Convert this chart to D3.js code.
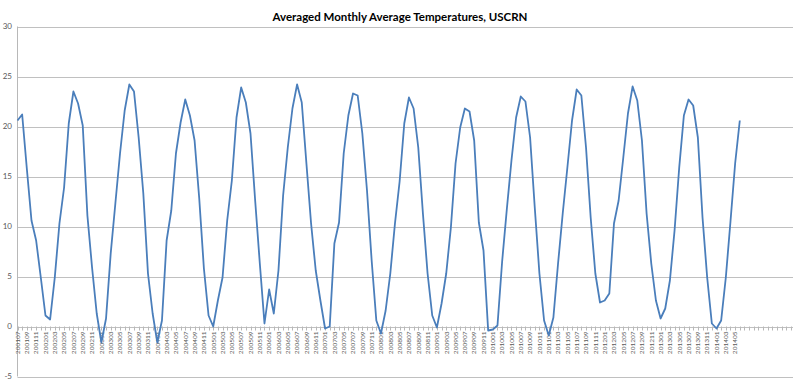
<!DOCTYPE html>
<html>
<head>
<meta charset="utf-8">
<script src="https://cdn.jsdelivr.net/npm/d3@7"></script>
<style>
  body { margin: 0; background: #fff; }
  svg { display: block; }
</style>
</head>
<body>
<div id="chart"></div>
<script>
// monthly values, Jul 2001 .. Jun 2014 (deg C)
var temps2001 = [20.6, 21.2, 15.8, 10.6, 8.6, 4.9];
var temps2002 = [1.1, 0.7, 4.9, 10.3, 13.9, 20.3, 23.5, 22.3, 20.1, 11.1, 5.9, 1.3];
var temps2003 = [-1.6, 0.8, 7.3, 12.3, 17.3, 21.6, 24.2, 23.5, 18.9, 13.3, 5.3, 1.3];
var temps2004 = [-1.6, 0.6, 8.6, 11.6, 17.3, 20.4, 22.7, 21.1, 18.6, 12.8, 5.8, 1.1];
var temps2005 = [0.0, 2.6, 4.9, 10.6, 14.6, 20.9, 23.9, 22.4, 19.3, 12.6, 6.3, 0.3];
var temps2006 = [3.7, 1.3, 5.6, 13.1, 17.9, 21.8, 24.2, 22.4, 16.3, 10.3, 5.6, 2.6];
var temps2007 = [-0.2, 0.0, 8.3, 10.4, 17.3, 21.1, 23.3, 23.1, 19.3, 13.6, 6.6, 0.6];
var temps2008 = [-0.7, 1.6, 5.3, 10.3, 14.5, 20.3, 22.9, 21.8, 17.9, 11.3, 5.3, 1.1];
var temps2009 = [-0.1, 2.3, 5.3, 9.9, 16.3, 19.9, 21.8, 21.5, 18.6, 10.4, 7.6, -0.4];
var temps2010 = [-0.3, 0.1, 6.5, 11.7, 16.6, 20.9, 23.0, 22.5, 18.9, 11.9, 5.3, 0.6];
var temps2011 = [-0.9, 0.9, 6.3, 11.3, 15.9, 20.6, 23.7, 23.1, 17.9, 10.9, 5.3, 2.4];
var temps2012 = [2.6, 3.3, 10.3, 12.6, 16.9, 21.3, 24.0, 22.6, 18.6, 11.3, 6.3, 2.6];
var temps2013 = [0.8, 1.8, 4.6, 9.6, 15.9, 21.1, 22.7, 22.1, 18.9, 10.9, 4.9, 0.3];
var temps2014 = [-0.2, 0.6, 4.9, 10.5, 16.3, 20.6];

var values = [].concat(temps2001, temps2002, temps2003, temps2004, temps2005,
  temps2006, temps2007, temps2008, temps2009, temps2010, temps2011,
  temps2012, temps2013, temps2014);

// category labels yyyymm
var fmt = d3.timeFormat('%Y%m');
var months = d3.timeMonth.range(new Date(2001, 6, 1), new Date(2014, 6, 1)).map(fmt);
var yTicks = [-5, 0, 5, 10, 15, 20, 25, 30];
var title = 'Averaged Monthly Average Temperatures, USCRN';

var width = 800, height = 384;
var nSlots = 167; // axis keeps going past the data

var svg = d3.select('#chart')
  .append('svg')
  .attr('width', width)
  .attr('height', height);

var x = d3.scaleLinear()
  .domain([0, nSlots - 1])
  .range([17.5, 17.5 + 4.66 * (nSlots - 1)]);

var y = d3.scaleLinear()
  .domain([-5, 30])
  .range([376.5, 26.5]);

// gridlines
svg.append('g')
  .selectAll('line')
  .data(yTicks)
  .join('line')
  .attr('x1', 17.5)
  .attr('x2', 793)
  .attr('y1', function(d) { return Math.round(y(d)) + 0.5; })
  .attr('y2', function(d) { return Math.round(y(d)) + 0.5; })
  .attr('stroke', '#c0c0c0')
  .attr('stroke-width', 1);

// y axis line
svg.append('line')
  .attr('x1', 17.5).attr('x2', 17.5)
  .attr('y1', y(30)).attr('y2', y(-5))
  .attr('stroke', '#b8b8b8');

// y labels
svg.append('g')
  .selectAll('text')
  .data(yTicks)
  .join('text')
  .attr('x', 12)
  .attr('y', function(d) { return y(d); })
  .attr('dy', '0.35em')
  .attr('text-anchor', 'end')
  .attr('font-family', 'Lato, "Liberation Sans", sans-serif')
  .attr('font-size', 8)
  .attr('fill', '#595959')
  .text(function(d) { return d; });

// month ticks along the zero line
svg.append('g')
  .selectAll('line')
  .data(d3.range(nSlots))
  .join('line')
  .attr('x1', function(d) { return Math.round(x(d)) + 0.5; })
  .attr('x2', function(d) { return Math.round(x(d)) + 0.5; })
  .attr('y1', y(0))
  .attr('y2', y(0) + 4)
  .attr('stroke', '#b8b8b8');

// month labels, every other month
svg.append('g')
  .selectAll('text')
  .data(months.filter(function(m, i) { return i % 2 === 0; }))
  .join('text')
  .attr('transform', function(d) {
    var i = months.indexOf(d);
    return 'translate(' + x(i) + ',' + (y(0) + 5) + ') rotate(-90)';
  })
  .attr('dy', '0.35em')
  .attr('text-anchor', 'end')
  .attr('font-family', 'Lato, "Liberation Sans", sans-serif')
  .attr('font-size', 6.5)
  .attr('fill', '#595959')
  .text(function(d) { return d; });

// the series
var line = d3.line()
  .x(function(d, i) { return x(i); })
  .y(function(d) { return y(d); });

svg.append('path')
  .datum(values)
  .attr('d', line)
  .attr('fill', 'none')
  .attr('stroke', '#4a7ebb')
  .attr('stroke-width', 1.8)
  .attr('stroke-linejoin', 'round');

// title
svg.append('text')
  .attr('x', 400)
  .attr('y', 21)
  .attr('text-anchor', 'middle')
  .attr('font-family', 'Lato, "Liberation Sans", sans-serif')
  .attr('font-weight', 'bold')
  .attr('font-size', 11.5)
  .attr('fill', '#000')
  .text(title);
</script>
</body>
</html>
